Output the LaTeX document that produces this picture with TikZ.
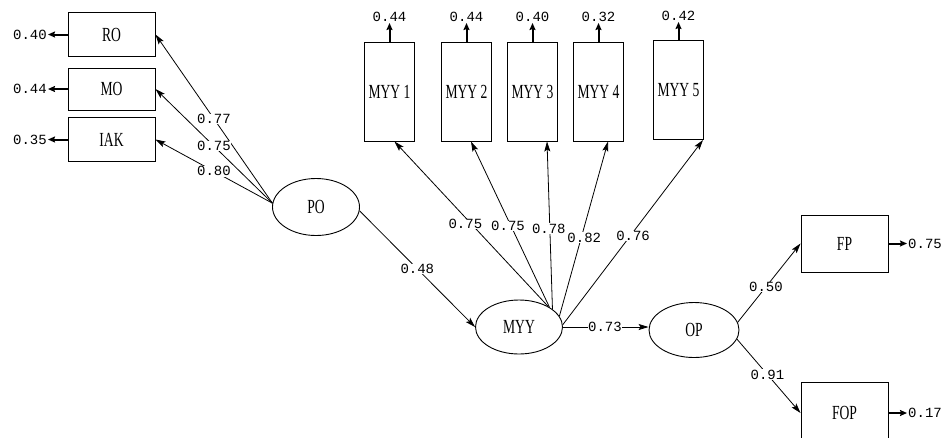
\documentclass[tikz,border=0pt]{standalone}
\usepackage{fontspec}
\setmainfont{Liberation Serif}
\newfontfamily\numfont{Liberation Mono}
\newfontfamily\lblfont[FakeStretch=0.68]{Liberation Serif}
\usetikzlibrary{arrows.meta,shapes.geometric}
\begin{document}
\begin{tikzpicture}[x=1pt,y=-1pt,
  box/.style={draw, line width=1pt, minimum width=87pt, minimum height=44pt, inner sep=0pt,
    font=\lblfont\fontsize{20}{20}\selectfont},
  vbox/.style={box, minimum width=50pt, minimum height=99pt},
  lat/.style={draw, ellipse, line width=0.9pt, inner sep=0pt,
    font=\lblfont\fontsize{20}{20}\selectfont},
  pth/.style={line width=0.8pt, -{Stealth[length=10pt,width=6pt,inset=2pt]}},
  coef/.style={fill=white, inner sep=0.5pt, font=\numfont\fontsize{14}{14}\selectfont},
  err/.style={line width=2pt, -{Stealth[length=7pt,width=6pt,inset=1pt]}},
  errlbl/.style={inner sep=1pt, font=\numfont\fontsize{14}{14}\selectfont}]
\useasboundingbox (0,0) rectangle (944,437);
\clip (0,0) rectangle (944,437);
\fill[white] (0,0) rectangle (944,437);

% observed variables
\node[box] (ro) at (111.5,34.5) {RO};
\node[box, minimum height=42pt] (mo) at (111.5,89) {MO};
\node[box] (iak) at (111.5,139.5) {IAK};
\node[vbox] (m1) at (389.5,91.5) {MYY 1};
\node[vbox] (m2) at (466.5,91.5) {MYY 2};
\node[vbox] (m3) at (532.5,91.5) {MYY 3};
\node[vbox] (m4) at (598.5,91.5) {MYY 4};
\node[vbox] (m5) at (678.5,90) {MYY 5};
\node[box, minimum height=57pt] (fp) at (844.5,243.5) {FP};
\node[box, minimum height=62pt] (fop) at (844.5,413) {FOP};

% latent variables
\node[lat, minimum width=87pt, minimum height=57pt] (po) at (316,207) {PO};
\node[lat, minimum width=87pt, minimum height=54pt] (myy) at (519,327) {MYY};
\node[lat, minimum width=90pt, minimum height=55pt] (op) at (694,330) {OP};

% error labels
\node[errlbl, anchor=east] (ero) at (48,34.5) {0.40};
\node[errlbl, anchor=east] (emo) at (48,89) {0.44};
\node[errlbl, anchor=east] (eiak) at (48,139.5) {0.35};
\node[errlbl, anchor=south] (e1) at (389.5,23) {0.44};
\node[errlbl, anchor=south] (e2) at (466.5,23) {0.44};
\node[errlbl, anchor=south] (e3) at (532.5,23) {0.40};
\node[errlbl, anchor=south] (e4) at (598.5,23) {0.32};
\node[errlbl, anchor=south] (e5) at (678.5,22) {0.42};
\node[errlbl, anchor=west] (efp) at (907,243.5) {0.75};
\node[errlbl, anchor=west] (efop) at (907,413) {0.17};

% error arrows
\draw[err] (ro.west) -- (ero.east);
\draw[err] (mo.west) -- (emo.east);
\draw[err] (iak.west) -- (eiak.east);
\draw[err] (m1.north) -- (e1.south);
\draw[err] (m2.north) -- (e2.south);
\draw[err] (m3.north) -- (e3.south);
\draw[err] (m4.north) -- (e4.south);
\draw[err] (m5.north) -- (e5.south);
\draw[err] (fp.east) -- (efp.west);
\draw[err] (fop.east) -- (efop.west);

% end points of the paths into the MYY boxes
\coordinate (t1) at ([xshift=5pt]m1.south);
\coordinate (t2) at ([xshift=4.5pt]m2.south);
\coordinate (t3) at ([xshift=14.5pt]m3.south);
\coordinate (t4) at ([xshift=9.5pt]m4.south);
\coordinate (t5) at ([xshift=-1pt]m5.south east);

% paths (lines first)
\draw[pth] (po.175) -- (ro.east);
\draw[pth] (po.175) -- (mo.east);
\draw[pth] (po.175) -- (iak.east);
\draw[pth] (po.-5) -- (myy.west);
\draw[pth] (myy.35) -- (t1);
\draw[pth] (myy.33) -- (t2);
\draw[pth] (myy.28) -- (t3);
\draw[pth] (myy.15) -- (t4);
\draw[pth] (myy.3) -- (t5);
\draw[pth] (myy.east) -- (myy.east -| op.west);
\draw[pth] (op.10) -- (fp.west);
\draw[pth] (op.-12) -- (fop.west);

% coefficient labels (on top of all lines)
\path (po.175) -- node[coef]{0.77} (ro.east);
\path (po.175) -- node[coef]{0.75} (mo.east);
\path (po.175) -- node[coef]{0.80} (iak.east);
\path (po.-5) -- node[coef]{0.48} (myy.west);
\path (myy.35) -- node[coef,pos=0.5,xshift=-6pt]{0.75} (t1);
\path (myy.33) -- node[coef,pos=0.49,xshift=-3pt]{0.75} (t2);
\path (myy.28) -- node[coef,pos=0.48,xshift=-1pt]{0.78} (t3);
\path (myy.15) -- node[coef,pos=0.45,xshift=3pt]{0.82} (t4);
\path (myy.3) -- node[coef,pos=0.48,xshift=3pt]{0.76} (t5);
\path (myy.east) -- node[coef,pos=0.49]{0.73} (myy.east -| op.west);
\path (op.10) -- node[coef,pos=0.45]{0.50} (fp.west);
\path (op.-12) -- node[coef,pos=0.48]{0.91} (fop.west);
\end{tikzpicture}
\end{document}
